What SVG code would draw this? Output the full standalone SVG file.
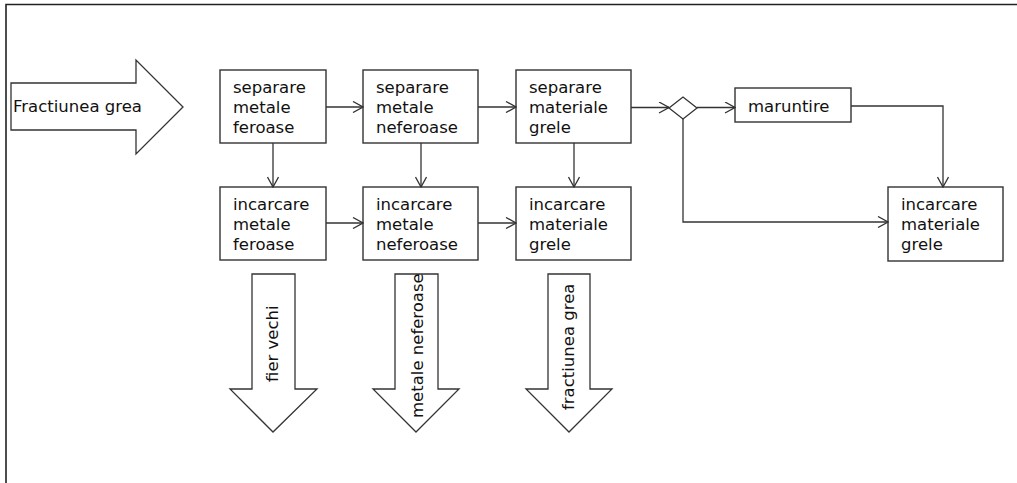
<svg xmlns="http://www.w3.org/2000/svg" width="1017" height="483" viewBox="0 0 1017 483">
  <defs>
    <marker id="open" viewBox="0 0 12 12" refX="11" refY="6" markerWidth="12" markerHeight="12" markerUnits="userSpaceOnUse" orient="auto">
      <path d="M1,0.5 L11,6 L1,11.5" fill="none" stroke="#333" stroke-width="1.3"/>
    </marker>
  </defs>
  <style>
    .box { fill: #fff; stroke: #333; stroke-width: 1.4; }
    .shape { fill: #fff; stroke: #333; stroke-width: 1.3; }
    .lbl { font-family: "DejaVu Sans", sans-serif; font-size: 16.5px; fill: #111; }
    .edge { fill: none; stroke: #333; stroke-width: 1.3; }
  </style>
  <rect width="1017" height="483" fill="#fff"/>
  <!-- page frame -->
  <path d="M6,483 V4.5 H1017" fill="none" stroke="#222" stroke-width="1.6"/>

  <!-- input arrow -->
  <g id="input">
    <path class="shape" d="M11,83 H136 V60 L183,107 L136,154 V130 H11 Z"/>
    <text class="lbl" x="13" y="112">Fractiunea grea</text>
  </g>

  <!-- process boxes -->
  <g id="sep-feroase">
    <rect class="box" x="220" y="70" width="106" height="73"/>
    <text class="lbl" x="233" y="93">separare</text>
    <text class="lbl" x="233" y="113">metale</text>
    <text class="lbl" x="233" y="133">feroase</text>
  </g>
  <g id="sep-neferoase">
    <rect class="box" x="363" y="70" width="115" height="73"/>
    <text class="lbl" x="376" y="93">separare</text>
    <text class="lbl" x="376" y="113">metale</text>
    <text class="lbl" x="376" y="133">neferoase</text>
  </g>
  <g id="sep-grele">
    <rect class="box" x="516" y="70" width="115" height="73"/>
    <text class="lbl" x="529" y="93">separare</text>
    <text class="lbl" x="529" y="113">materiale</text>
    <text class="lbl" x="529" y="133">grele</text>
  </g>
  <g id="inc-feroase">
    <rect class="box" x="220" y="187" width="106" height="73"/>
    <text class="lbl" x="233" y="210">incarcare</text>
    <text class="lbl" x="233" y="230">metale</text>
    <text class="lbl" x="233" y="250">feroase</text>
  </g>
  <g id="inc-neferoase">
    <rect class="box" x="363" y="187" width="115" height="73"/>
    <text class="lbl" x="376" y="210">incarcare</text>
    <text class="lbl" x="376" y="230">metale</text>
    <text class="lbl" x="376" y="250">neferoase</text>
  </g>
  <g id="inc-grele">
    <rect class="box" x="516" y="187" width="115" height="73"/>
    <text class="lbl" x="529" y="210">incarcare</text>
    <text class="lbl" x="529" y="230">materiale</text>
    <text class="lbl" x="529" y="250">grele</text>
  </g>
  <g id="decision">
    <path class="shape" d="M669,108 L683,97 L697,108 L683,119 Z"/>
  </g>
  <g id="maruntire">
    <rect class="box" x="735" y="88" width="116" height="34"/>
    <text class="lbl" x="748" y="112">maruntire</text>
  </g>
  <g id="inc-grele-final">
    <rect class="box" x="888" y="187" width="115" height="74"/>
    <text class="lbl" x="901" y="210">incarcare</text>
    <text class="lbl" x="901" y="230">materiale</text>
    <text class="lbl" x="901" y="250">grele</text>
  </g>

  <!-- output arrows -->
  <g id="out-fier">
    <path class="shape" d="M252,274 H295 V389 H317 L273,432 L230,389 H252 Z"/>
    <text class="lbl" transform="translate(278,382) rotate(-90)">fier vechi</text>
  </g>
  <g id="out-neferoase">
    <path class="shape" d="M395,274 H438 V389 H459 L416,432 L373,389 H395 Z"/>
    <text class="lbl" transform="translate(422.5,418) rotate(-90)">metale neferoase</text>
  </g>
  <g id="out-grea">
    <path class="shape" d="M548,274 H590 V389 H612 L569,432 L526,389 H548 Z"/>
    <text class="lbl" transform="translate(574,410) rotate(-90)">fractiunea grea</text>
  </g>

  <!-- connectors -->
  <g id="connectors">
    <path class="edge" marker-end="url(#open)" d="M326,107 H363"/>
    <path class="edge" marker-end="url(#open)" d="M478,107 H516"/>
    <path class="edge" marker-end="url(#open)" d="M631,107.5 H669"/>
    <path class="edge" marker-end="url(#open)" d="M697,107.5 H735"/>
    <path class="edge" marker-end="url(#open)" d="M326,223 H363"/>
    <path class="edge" marker-end="url(#open)" d="M478,223 H516"/>
    <path class="edge" marker-end="url(#open)" d="M273,143 V187"/>
    <path class="edge" marker-end="url(#open)" d="M421,143 V187"/>
    <path class="edge" marker-end="url(#open)" d="M574,143 V187"/>
    <path class="edge" marker-end="url(#open)" d="M851,106 H943 V187"/>
    <path class="edge" marker-end="url(#open)" d="M683,119 V222 H888"/>
  </g>
</svg>
